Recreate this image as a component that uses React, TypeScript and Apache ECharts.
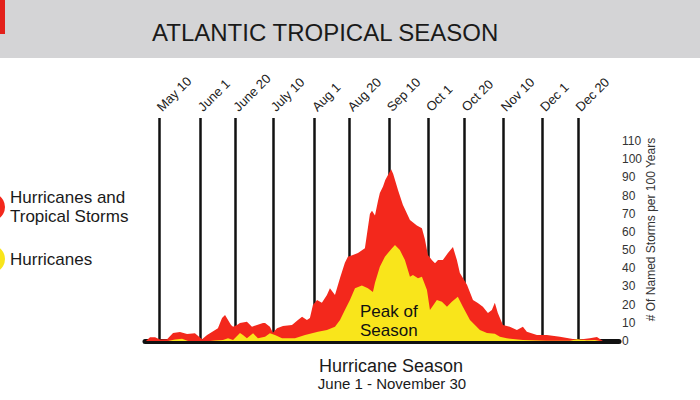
import React, { useEffect, useRef } from 'react';
import * as echarts from 'echarts';

// Day-of-year positions of the date gridlines and their labels
const tickDays = [130, 152, 171, 191, 213, 232, 253, 274, 293, 314, 335, 354];
const tickLabels = ['May 10', 'June 1', 'June 20', 'July 10', 'Aug 1', 'Aug 20', 'Sep 10', 'Oct 1', 'Oct 20', 'Nov 10', 'Dec 1', 'Dec 20'];

// Hurricanes and tropical storms (per 100 years), by day of year
const stormDays = [123.0, 125.2, 127.9, 130.5, 134.3, 137.5, 141.2, 145.0, 149.2, 153.0, 155.7, 158.3, 161.5, 163.7, 165.3, 166.9, 168.5, 169.6, 171.7, 173.3, 177.0, 179.7, 182.4, 185.6, 186.7, 189.3, 190.9, 193.1, 196.3, 201.1, 204.3, 206.5, 209.1, 210.7, 212.3, 214.5, 217.1, 219.8, 221.4, 224.1, 226.8, 229.4, 231.0, 233.7, 236.4, 240.1, 242.8, 243.9, 245.5, 247.1, 248.1, 249.8, 251.0, 254.1, 255.2, 257.8, 260.4, 264.2, 267.9, 270.6, 272.2, 273.8, 275.9, 277.6, 279.2, 281.8, 284.5, 287.2, 289.3, 290.9, 294.7, 297.9, 300.5, 303.2, 305.9, 308.0, 309.6, 311.2, 313.9, 317.6, 321.4, 324.6, 326.7, 332.1, 337.4, 344.4, 351.3, 355.1, 360.4, 364.2, 367.4];
const stormValues = [0, 2, 2, 0.8, 1, 4.4, 5, 3.8, 4.2, 1, 3.3, 5, 7, 12.6, 14.3, 11.5, 8.8, 7.9, 8.8, 9.9, 10.6, 7.9, 8.8, 9.9, 9.9, 7.9, 4.5, 7, 8.3, 8.8, 11.5, 13.4, 11.5, 12.6, 19.8, 22.5, 21, 25.3, 29, 25.3, 34.6, 43, 46.4, 47.3, 48.4, 51, 70, 71.6, 69, 77, 81.4, 85, 88.5, 94.4, 92, 83, 75, 66.5, 63.5, 62, 56, 47.3, 44.5, 42.7, 44.5, 44.5, 48.4, 51.7, 44.5, 37.4, 31, 22.5, 20.9, 18.9, 15.4, 17, 21, 15.4, 8.8, 7.9, 6, 7.9, 5.1, 3.3, 3.3, 2.4, 1.1, 0.8, 1.5, 2.2, 0];

// Hurricanes only (per 100 years), by day of year
const hurricaneDays = [134.8, 138.6, 142.3, 145.5, 157.3, 159.9, 164.2, 166.9, 169.6, 173.3, 174.9, 177.0, 180.3, 182.9, 186.7, 189.3, 192.0, 195.8, 202.7, 208.1, 215.0, 219.8, 224.1, 226.8, 229.4, 232.1, 234.8, 238.5, 241.7, 244.4, 245.5, 248.1, 250.8, 254.6, 256.2, 258.8, 261.5, 264.2, 265.8, 268.5, 270.6, 273.3, 274.9, 278.6, 281.3, 284.0, 286.6, 289.8, 292.5, 296.3, 301.6, 305.4, 309.6, 312.3, 316.0, 324.6, 337.4, 349.7, 353.5, 358.8, 363.1, 365.8];
const hurricaneValues = [0, 0.8, 1.2, 0, 0, 0.3, 0.6, 1.5, 0.5, 4.4, 3.3, 1.5, 4.2, 1.5, 2.4, 4.2, 3.3, 1.5, 1.5, 3.3, 5.1, 6, 7.9, 11.5, 17, 22.5, 29, 30.5, 29, 27, 32, 40.9, 46.4, 51, 52.8, 50, 44.5, 35.4, 36.3, 34.5, 35.4, 28, 17, 22.5, 21.6, 18.9, 21.6, 24.4, 18.9, 11.5, 6, 4.4, 4, 2.4, 1.5, 0.5, 0.2, 0.2, 1, 0.4, 0.6, 0];

const RED = '#f3281c';
const YELLOW = '#f9e51b';
const FONT = '"Liberation Sans", Arial, Helvetica, sans-serif';

export default function App() {
  const ref = useRef<HTMLDivElement>(null);
  useEffect(() => {
    if (!ref.current) return;
    const chart = echarts.init(ref.current, null, { renderer: 'svg' });
    const stormData = stormDays.map((d, i) => [d, stormValues[i]]);
    const hurricaneData = hurricaneDays.map((d, i) => [d, hurricaneValues[i]]);
    const xMin = 122.5;
    const xMax = 376;
    chart.setOption({
      animation: false,
      backgroundColor: '#ffffff',
      textStyle: { fontFamily: FONT },
      title: {
        text: 'ATLANTIC TROPICAL SEASON',
        left: 152,
        top: 20,
        padding: 0,
        textStyle: { fontSize: 24, fontWeight: 'normal', color: '#1a1a1a', fontFamily: FONT },
      },
      legend: {
        orient: 'vertical',
        left: -23,
        top: 188,
        padding: 0,
        icon: 'circle',
        itemWidth: 28,
        itemHeight: 28,
        itemGap: 19,
        selectedMode: false,
        textStyle: { fontSize: 17, lineHeight: 19, color: '#1a1a1a', fontFamily: FONT },
        data: ['Hurricanes and\nTropical Storms', 'Hurricanes'],
      },
      grid: { left: 145, right: 81, top: 118, bottom: 59, containLabel: false },
      xAxis: [
        {
          type: 'value',
          min: xMin,
          max: xMax,
          position: 'bottom',
          offset: 2,
          axisLine: { show: true, lineStyle: { color: '#111111', width: 5 } },
          axisTick: { show: false },
          axisLabel: { show: false },
          splitLine: { show: false },
        },
        {
          type: 'value',
          min: xMin,
          max: xMax,
          position: 'top',
          axisLine: { show: false },
          axisTick: { show: false },
          splitLine: { show: false },
          axisLabel: {
            show: true,
            customValues: tickDays,
            rotate: -45,
            margin: 9,
            fontSize: 13,
            color: '#222222',
            fontFamily: FONT,
            formatter: (v: number) => {
              const i = tickDays.indexOf(v);
              return i >= 0 ? tickLabels[i] : '';
            },
          },
        },
      ],
      yAxis: {
        type: 'value',
        position: 'right',
        min: 0,
        max: 122.65,
        interval: 10,
        axisLine: { show: false },
        axisTick: { show: false },
        splitLine: { show: false },
        axisLabel: {
          fontSize: 12,
          color: '#333333',
          margin: 3,
          fontFamily: FONT,
          formatter: (v: number) => (v <= 110 && Math.abs(v % 10) < 1e-6 ? String(v) : ''),
        },
        name: '# Of Named Storms per 100 Years',
        nameLocation: 'middle',
        nameRotate: 90,
        nameGap: 26,
        nameMoveOverlap: false,
        nameTextStyle: { fontSize: 12, color: '#333333', fontFamily: FONT },
      },
      series: [
        {
          name: 'Hurricanes and\nTropical Storms',
          type: 'line',
          xAxisIndex: 0,
          data: stormData,
          color: RED,
          symbol: 'none',
          showSymbol: false,
          smooth: false,
          lineStyle: { width: 0, color: RED },
          areaStyle: { color: RED, opacity: 1 },
          z: 2,
          markLine: {
            silent: true,
            symbol: ['none', 'none'],
            z: 1,
            label: { show: false },
            lineStyle: { color: '#111111', width: 2.5, type: 'solid' },
            data: tickDays.map((d) => ({ xAxis: d })),
          },
        },
        {
          name: 'Hurricanes',
          type: 'line',
          xAxisIndex: 0,
          data: hurricaneData,
          color: YELLOW,
          symbol: 'none',
          showSymbol: false,
          smooth: false,
          lineStyle: { width: 0, color: YELLOW },
          areaStyle: { color: YELLOW, opacity: 1 },
          z: 3,
        },
      ],
      graphic: [
        { type: 'rect', z: -1, shape: { x: 0, y: 0, width: 700, height: 58 }, style: { fill: '#d4d4d6' } },
        { type: 'rect', z: 0, shape: { x: 0, y: 0, width: 5, height: 34 }, style: { fill: '#e3201b' } },
        {
          type: 'text', z: 10, left: 360, top: 302,
          style: { text: 'Peak of\nSeason', fontSize: 17, lineHeight: 19, fill: '#111111', fontFamily: FONT },
        },
        {
          type: 'text', z: 10, x: 391, y: 366,
          style: { text: 'Hurricane Season', fontSize: 18, fill: '#1a1a1a', fontFamily: FONT, align: 'center', verticalAlign: 'middle' },
        },
        {
          type: 'text', z: 10, x: 392, y: 383,
          style: { text: 'June 1 - November 30', fontSize: 15, fill: '#1a1a1a', fontFamily: FONT, align: 'center', verticalAlign: 'middle' },
        },
      ],
    });
    return () => chart.dispose();
  }, []);
  return <div ref={ref} style={{ position: 'fixed', left: 0, top: 0, width: 700, height: 400 }} />;
}
